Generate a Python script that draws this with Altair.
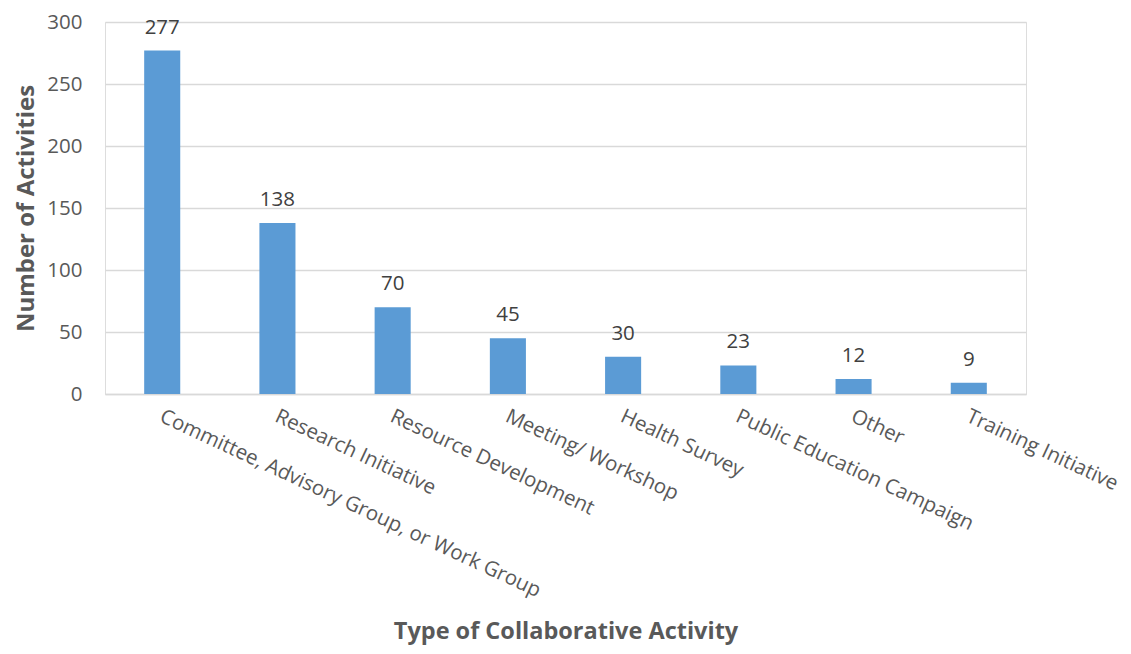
import altair as alt
import pandas as pd

categories = [
    "Committee, Advisory Group, or Work Group",
    "Research Initiative",
    "Resource Development",
    "Meeting/ Workshop",
    "Health Survey",
    "Public Education Campaign",
    "Other",
    "Training Initiative",
]
values = [277, 138, 70, 45, 30, 23, 12, 9]

df = pd.DataFrame({"cat": categories, "val": values})

FONT = "Open Sans"

x = alt.X(
    "cat:N",
    sort=categories,
    scale=alt.Scale(paddingInner=0.687, paddingOuter=0.34),
    axis=alt.Axis(
        title="Type of Collaborative Activity",
        titleFont=FONT,
        titleFontSize=23.5,
        titleFontWeight="bold",
        titleColor="#595959",
        titleY=244,
        titleBaseline="alphabetic",
        labelAngle=25,
        labelAlign="left",
        labelBaseline="top",
        labelFont=FONT,
        labelFontSize=20.5,
        labelColor="#595959",
        labelPadding=12,
        labelOffset=3,
        labelLimit=0,
        ticks=False,
        domainColor="#D9D9D9",
        domainWidth=1.5,
    ),
)

y = alt.Y(
    "val:Q",
    scale=alt.Scale(domain=[0, 300], nice=False),
    axis=alt.Axis(
        title="Number of Activities",
        titleFont=FONT,
        titleFontSize=24,
        titleFontWeight="bold",
        titleColor="#595959",
        titleX=-72,
        titleBaseline="alphabetic",
        values=[0, 50, 100, 150, 200, 250, 300],
        labelFont=FONT,
        labelFontSize=20.5,
        labelColor="#595959",
        labelPadding=23,
        ticks=False,
        domain=False,
        gridColor="#D9D9D9",
        gridWidth=1.5,
    ),
)

bars = alt.Chart(df).mark_bar(color="#5B9BD5").encode(x=x, y=y)

labels = alt.Chart(df).mark_text(
    font=FONT, fontSize=20.5, color="#404040", dy=-17, baseline="alphabetic"
).encode(x=alt.X("cat:N", sort=categories), y="val:Q", text="val:Q")

chart = (
    alt.layer(bars, labels)
    .properties(
        width=921,
        height=372,
        padding={"left": 97, "top": 14, "right": 97, "bottom": 256},
        autosize=alt.AutoSizeParams(type="none"),
    )
    .configure_view(stroke=None)
    .configure(background="white")
)

chart.save("out.html", embed_options={"renderer": "svg", "actions": False})
